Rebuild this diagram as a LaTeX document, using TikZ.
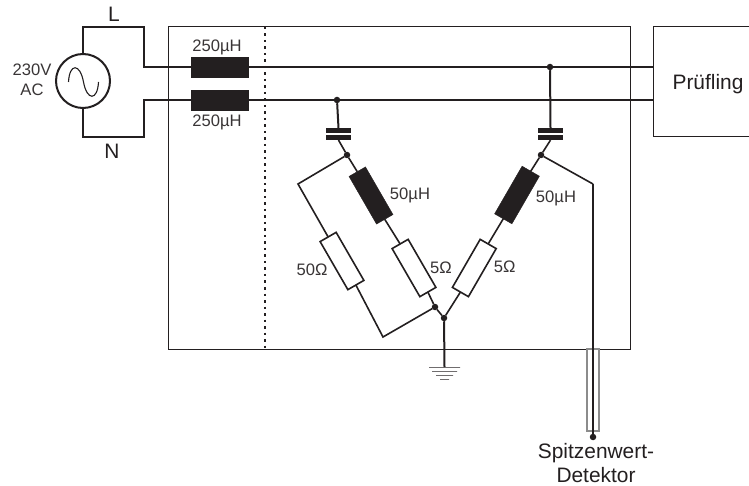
\documentclass[tikz,border=0pt]{standalone}
\usepackage{fontspec}
\setmainfont{Liberation Sans}
\usepackage{xcolor}
\usetikzlibrary{calc}
\definecolor{tinte}{HTML}{231F20}

\tikzset{
	leitung/.style = {line width = 2pt, color = tinte, line join = miter},
	duenn/.style = {line width = 1.6pt, color = tinte, line join = miter},
	rahmen/.style = {line width = 1pt, color = tinte},
	drossel/.style = {draw = tinte, fill = tinte, rectangle, inner sep = 0, outer sep = 0, minimum width = 19pt, minimum height = 55pt},
	widerstand/.style = {draw = tinte, line width = 1.6pt, fill = white, rectangle, inner sep = 0, outer sep = 0, minimum width = 18.5pt, minimum height = 55.5pt},
	platte/.style = {fill = tinte, rectangle, inner sep = 0, outer sep = 0, minimum width = 25pt, minimum height = 4.6pt},
	punkt/.style = {fill = tinte, circle, inner sep = 0, outer sep = 0, minimum size = 6.5pt},
	erdung/.style = {draw = tinte, line width = 0.9pt, rectangle, inner sep = 0, outer sep = 0, minimum height = 0pt},
	beschr/.style = {inner sep = 0, text = tinte!90!white, font = \fontsize{16.6}{19.5}\selectfont, align = center},
	gross/.style = {inner sep = 0, text = tinte, font = \fontsize{20.9}{24}\selectfont, align = center},
}

\begin{document}
\begin{tikzpicture}[x = 1pt, y = -1pt]
		\useasboundingbox (0, 0) rectangle (749, 486);

		% Gehaeuse
		\node (gehaeuse) [draw, rahmen, rectangle, inner sep = 0, outer sep = 0, minimum width = 462pt, minimum height = 322pt] at (399, 188) {};
		\coordinate (trennO) at (265, 27);
		\coordinate (trennU) at (265, 349);
		\draw [line width = 1.8pt, color = tinte, dash pattern = on 2.5pt off 4pt] (trennO) -- (trennU);

		% Pruefling
		\coordinate (prO) at (749, 27);
		\coordinate (prA) at (653, 27);
		\coordinate (prL) at (653, 67);
		\coordinate (prN) at (653, 100);
		\coordinate (prB) at (653, 137);
		\coordinate (prU) at (749, 137);
		\draw [rahmen] (prO) -- (prA) -- (prB) -- (prU);
		\node (pruefling) [gross] at (708, 84) {Prüfling};

		% Quelle
		\node (quelle) [draw, leitung, fill = white, circle, inner sep = 0, outer sep = 0, minimum size = 54pt] at (83, 81) {};
		\coordinate (sinusA) at (68.5, 82);
		\coordinate (sinusB) at (83.5, 82);
		\coordinate (sinusC) at (98.5, 82);
		\draw [line width = 1.1pt, color = tinte] (sinusA) .. controls (69.5, 63) and (80, 63) .. (sinusB) .. controls (87, 101) and (97.5, 101) .. (sinusC);
		\node (spannung) [beschr] at (32, 80) {230V\\AC};
		\node (labelL) [gross] at (114, 14) {L};
		\node (labelN) [gross] at (112, 151) {N};

		% Drosseln
		\node (drosselL) [drossel, minimum width = 57pt, minimum height = 20pt] at (219.5, 67) {};
		\node (drosselN) [drossel, minimum width = 57pt, minimum height = 20pt] at (219.5, 100) {};
		\node (labelDL) [beschr] at (217, 47) {250µH};
		\node (labelDN) [beschr] at (217, 122) {250µH};
		\coordinate (eckeL1) at (144, 27);
		\coordinate (eckeL2) at (144, 67);
		\coordinate (eckeN1) at (144, 137);
		\coordinate (eckeN2) at (144, 100);
		\draw [leitung] (quelle.north) |- (eckeL1) -- (eckeL2) -- (drosselL.west);
		\draw [leitung] (quelle.south) |- (eckeN1) -- (eckeN2) -- (drosselN.west);
		\draw [leitung] (drosselL.east) -- (prL);
		\draw [leitung] (drosselN.east) -- (prN);

		% linker Zweig
		\node (abzwN) [punkt] at (337, 100) {};
		\node (c1a) [platte] at (338.5, 130.5) {};
		\node (c1b) [platte] at (338.5, 137.8) {};
		\node (knotenL) [punkt] at (347, 155) {};
		\node (drosselA) [drossel, rotate = 30] at (371, 195.5) {};
		\node (r5a) [widerstand, rotate = 30] at (414, 268) {};
		\node (r50) [widerstand, rotate = 30] at (342, 261) {};
		\node (knotenM) [punkt] at (435, 307) {};
		\node (stern) [punkt] at (444, 318) {};
		\node (labelD50a) [beschr] at (410, 195) {50µH};
		\node (label50) [beschr] at (312, 270) {50Ω};
		\node (label5a) [beschr] at (441, 268) {5Ω};
		\coordinate (eckeA) at (298, 184);
		\coordinate (eckeB) at (383, 337);
		\draw [leitung] (abzwN) -- (c1a.north);
		\draw [duenn] (c1b.south) -- (knotenL);
		\draw [duenn] (knotenL) -- (drosselA.north);
		\draw [duenn] (drosselA.south) -- (r5a.north);
		\draw [duenn] (r5a.south) -- (knotenM);
		\draw [duenn] (knotenM) -- (stern);
		\draw [duenn] (knotenL) -- (eckeA) -- (r50.north);
		\draw [duenn] (r50.south) -- (eckeB) -- (knotenM);

		% rechter Zweig
		\node (abzwL) [punkt] at (550, 67) {};
		\node (c2a) [platte] at (550.5, 130.5) {};
		\node (c2b) [platte] at (550.5, 137.8) {};
		\node (knotenR) [punkt] at (541, 155) {};
		\node (drosselB) [drossel, rotate = -30, minimum width = 20pt] at (517, 195) {};
		\node (r5b) [widerstand, rotate = -30] at (474.3, 268) {};
		\node (labelD50b) [beschr] at (556, 198) {50µH};
		\node (label5b) [beschr] at (504.6, 266.5) {5Ω};
		\draw [leitung] (abzwL) -- (c2a.north);
		\draw [duenn] (c2b.south) -- (knotenR);
		\draw [duenn] (knotenR) -- (drosselB.north);
		\draw [duenn] (drosselB.south) -- (r5b.north);
		\draw [duenn] (r5b.south) -- (stern);

		% Erde
		\node (erde) [erdung, minimum width = 31pt] at (444.5, 367) {};
		\node (erde2) [erdung, minimum width = 25pt] at (444.5, 371) {};
		\node (erde3) [erdung, minimum width = 17pt] at (444.5, 375) {};
		\node (erde4) [erdung, minimum width = 9pt] at (444.5, 379) {};
		\draw [leitung] (stern) -- (erde.center);

		% Detektor
		\node (schirm) [draw = black!45!white, line width = 1.1pt, rectangle, inner sep = 0, outer sep = 0, minimum width = 12pt, minimum height = 82pt] at (593, 390) {};
		\node (detektor) [punkt] at (593, 437) {};
		\coordinate (eckeD) at (593, 184);
		\draw [duenn] (knotenR) -- (eckeD);
		\draw [leitung] (eckeD) -- (detektor);
		\node (labelDet) [gross] at (596, 463) {Spitzenwert-\\Detektor};
	\end{tikzpicture}
\end{document}
